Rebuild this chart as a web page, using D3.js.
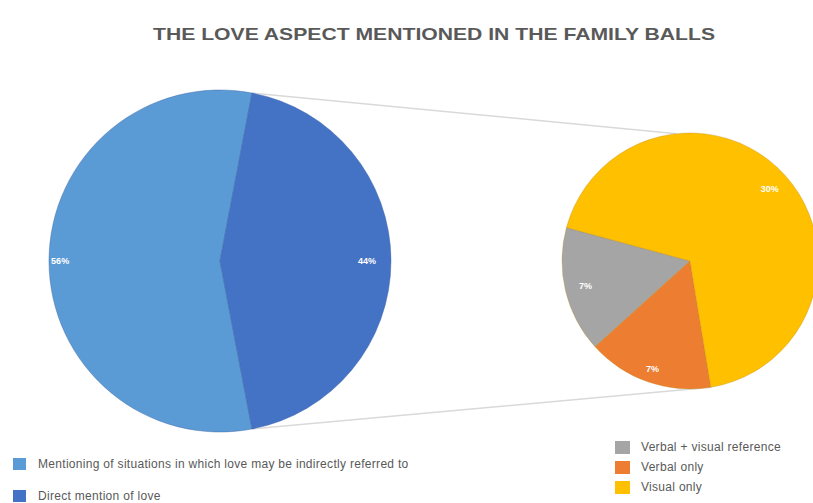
<!DOCTYPE html>
<html>
<head>
<meta charset="utf-8">
<script src="https://cdn.jsdelivr.net/npm/d3@7"></script>
<style>
  html, body { margin: 0; padding: 0; background: #fff; }
  svg { display: block; }
</style>
</head>
<body>
<svg id="chart" width="813" height="503"></svg>
<script>
// Primary pie: share of each kind of mention
const mainCategories = ["Mentioning of situations in which love may be indirectly referred to", "Direct mention of love"];
const mainValues = [56, 44];
const mainColors = ["#5B9BD5", "#4472C4"];

// Secondary pie: breakdown of direct mentions (percent of all mentions)
const subCategories = ["Verbal + visual reference", "Verbal only", "Visual only"];
const subValues = [7, 7, 30];
const subColors = ["#A5A5A5", "#ED7D31", "#FFC000"];

const title = "THE LOVE ASPECT MENTIONED IN THE FAMILY BALLS";

const svg = d3.select("#chart");
const deg = Math.PI / 180;

// Title
svg.append("text")
  .attr("x", 434).attr("y", 40)
  .attr("text-anchor", "middle")
  .attr("font-family", "'Liberation Sans Narrow', 'Liberation Sans', Arial, sans-serif")
  .attr("font-weight", "bold")
  .attr("font-size", 17)
  .attr("fill", "#595959")
  .attr("textLength", 562)
  .attr("lengthAdjust", "spacingAndGlyphs")
  .text(title);

// ---- Primary pie ----
const mainCx = 220, mainCy = 261, mainR = 171;
const mainStart = -190.8 * deg; // "Direct mention" slice ends up on the right side
const mainPie = d3.pie().sort(null).value(d => d)
  .startAngle(mainStart).endAngle(mainStart + 2 * Math.PI);
const mainArcs = mainPie(mainValues);
const mainArc = d3.arc().innerRadius(0).outerRadius(mainR);

// ---- Secondary pie ----
const subCx = 690, subCy = 261, subR = 128;
const subBottom = 170.6 * deg; // orange/yellow boundary near the bottom
const subTotal = d3.sum(subValues);
const subStart = subBottom + (subValues[0] + subValues[1]) / subTotal * 2 * Math.PI;
const subPie = d3.pie().sort(null).value(d => d)
  .startAngle(subStart).endAngle(subStart - 2 * Math.PI); // runs counter-clockwise
const subArcs = subPie(subValues);
const subArc = d3.arc().innerRadius(0).outerRadius(subR);

const pt = (cx, cy, r, a) => [cx + r * Math.sin(a), cy - r * Math.cos(a)];

// Connector lines between the split slice and the secondary pie
const split = mainArcs[1];
const upA = pt(mainCx, mainCy, mainR, split.startAngle);
const loA = pt(mainCx, mainCy, mainR, split.endAngle);
const upB = pt(subCx, subCy, subR, -6 * deg);
const loB = pt(subCx, subCy, subR, subBottom);
svg.append("g").attr("stroke", "#D9D9D9").attr("stroke-width", 1.6)
  .selectAll("line").data([[upA, upB], [loA, loB]]).join("line")
  .attr("x1", d => d[0][0]).attr("y1", d => d[0][1])
  .attr("x2", d => d[1][0]).attr("y2", d => d[1][1]);

const gMain = svg.append("g").attr("transform", `translate(${mainCx},${mainCy})`);
gMain.selectAll("path").data(mainArcs).join("path")
  .attr("d", mainArc)
  .attr("fill", (d, i) => mainColors[i])
  .attr("stroke", "#3F66A8").attr("stroke-opacity", 0.45).attr("stroke-width", 1);

const gSub = svg.append("g").attr("transform", `translate(${subCx},${subCy})`);
gSub.selectAll("path").data(subArcs).join("path")
  .attr("d", subArc)
  .attr("fill", (d, i) => subColors[i])
  .attr("stroke", "#B98A1A").attr("stroke-opacity", 0.35).attr("stroke-width", 1);

// Data labels near the outer edge of each slice
const labelStyle = sel => sel
  .attr("text-anchor", "middle").attr("dominant-baseline", "central")
  .attr("font-family", "'Liberation Sans', Arial, sans-serif")
  .attr("font-weight", "bold").attr("font-size", 9).attr("fill", "#fff");

const midAngle = d => (d.startAngle + d.endAngle) / 2;

const mainLabelR = [0.935, 0.86];
gMain.selectAll("text").data(mainArcs).join("text")
  .attr("transform", (d, i) => `translate(${pt(0, 0, mainR * mainLabelR[i], midAngle(d))})`)
  .call(labelStyle)
  .text(d => d.data + "%");

const subLabelR = [0.84, 0.89, 0.84];
gSub.selectAll("text").data(subArcs).join("text")
  .attr("transform", (d, i) => `translate(${pt(0, 0, subR * subLabelR[i], midAngle(d))})`)
  .call(labelStyle)
  .text(d => d.data + "%");

// Legends
const legendFont = "'Liberation Sans', Arial, sans-serif";
const leftLegend = svg.append("g");
mainCategories.forEach((c, i) => {
  const y = 464 + i * 32;
  leftLegend.append("rect").attr("x", 13).attr("y", y - 6).attr("width", 13).attr("height", 12).attr("fill", mainColors[i]);
  leftLegend.append("text").attr("x", 38).attr("y", y).attr("dominant-baseline", "central")
    .attr("font-family", legendFont).attr("font-size", 12).attr("letter-spacing", 0.3)
    .attr("fill", "#595959").text(c);
});

const rightLegend = svg.append("g");
subCategories.forEach((c, i) => {
  const y = 447 + i * 20;
  rightLegend.append("rect").attr("x", 615).attr("y", y - 6).attr("width", 15).attr("height", 13).attr("fill", subColors[i]);
  rightLegend.append("text").attr("x", 641).attr("y", y).attr("dominant-baseline", "central")
    .attr("font-family", legendFont).attr("font-size", 12).attr("letter-spacing", 0.3)
    .attr("fill", "#595959").text(c);
});
</script>
</body>
</html>
